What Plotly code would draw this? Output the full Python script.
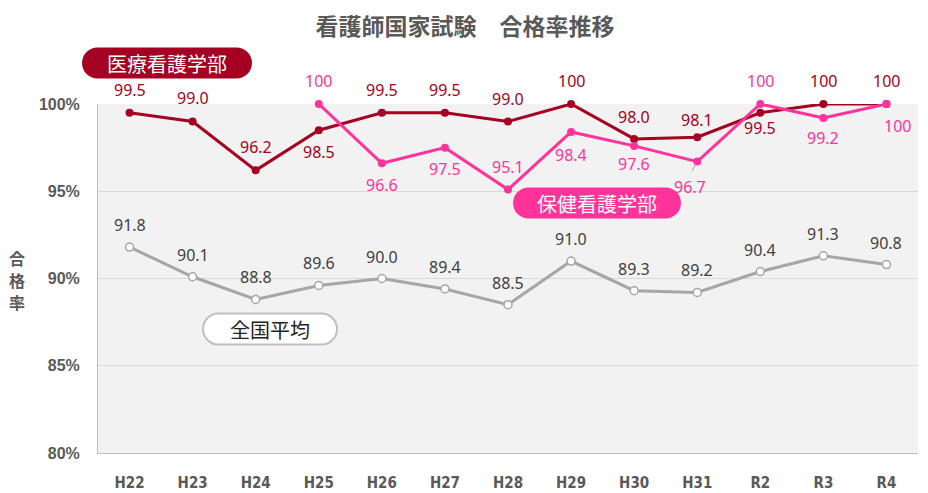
import plotly.graph_objects as go

categories = ["H22", "H23", "H24", "H25", "H26", "H27", "H28", "H29", "H30", "H31", "R2", "R3", "R4"]
iryo = [99.5, 99.0, 96.2, 98.5, 99.5, 99.5, 99.0, 100, 98.0, 98.1, 99.5, 100, 100]
hoken = [None, None, None, 100, 96.6, 97.5, 95.1, 98.4, 97.6, 96.7, 100, 99.2, 100]
zenkoku = [91.8, 90.1, 88.8, 89.6, 90.0, 89.4, 88.5, 91.0, 89.3, 89.2, 90.4, 91.3, 90.8]
label_iryo = ["99.5", "99.0", "96.2", "98.5", "99.5", "99.5", "99.0", "100", "98.0", "98.1", "99.5", "100", "100"]
label_hoken = [None, None, None, "100", "96.6", "97.5", "95.1", "98.4", "97.6", "96.7", "100", "99.2", "100"]
label_zenkoku = ["91.8", "90.1", "88.8", "89.6", "90.0", "89.4", "88.5", "91.0", "89.3", "89.2", "90.4", "91.3", "90.8"]
yticks = [80, 85, 90, 95, 100]
yticktext = ["80%", "85%", "90%", "95%", "100%"]
ytitle_chars = ["合", "格", "率"]

# label pixel offsets (style)
off_iryo = [23, 23, 23, -22, 23, 23, 22, 23, 22, 17, -15, 23, 23]
off_hoken = [0, 0, 0, 23, -22, -21, 23, -23, -18, -25, 23, -20, -22]
xoff_hoken = [0, 0, 0, 0, 0, 0, 0, 0, 0, -7, 0, 0, 11]
off_zenkoku = [22] * 13

RED = "#a50021"
PINK = "#ff3399"
GRAY = "#a6a6a6"
TXT = "#595959"

W, H = 928, 493
L, R, T, B = 98, 10, 104, 40
PW, PH = W - L - R, H - T - B


def px(x):
    return (x - L) / PW


def py(y):
    return (H - B - y) / PH


fig = go.Figure()
fig.add_trace(go.Scatter(x=categories, y=zenkoku, mode="lines+markers",
                         line=dict(color=GRAY, width=3),
                         marker=dict(size=8, color="white", line=dict(color=GRAY, width=1.5)),
                         cliponaxis=False, hoverinfo="skip"))
fig.add_trace(go.Scatter(x=categories, y=iryo, mode="lines+markers",
                         line=dict(color=RED, width=3),
                         marker=dict(size=8, color=RED),
                         cliponaxis=False, hoverinfo="skip"))
fig.add_trace(go.Scatter(x=categories, y=hoken, mode="lines+markers",
                         line=dict(color=PINK, width=3),
                         marker=dict(size=8, color=PINK),
                         cliponaxis=False, hoverinfo="skip", connectgaps=False))

annotations = []
lab_font = "Noto Sans, Open Sans, sans-serif"
LS = 16
for i, c in enumerate(categories):
    annotations.append(dict(x=c, y=iryo[i], text=label_iryo[i], showarrow=False,
                            xanchor="center", yanchor="middle",
                            yshift=off_iryo[i], font=dict(family=lab_font, size=LS, color=RED)))
    annotations.append(dict(x=c, y=zenkoku[i], text=label_zenkoku[i], showarrow=False,
                            xanchor="center", yanchor="middle",
                            yshift=off_zenkoku[i], font=dict(family=lab_font, size=LS, color="#404040")))
    if hoken[i] is not None:
        annotations.append(dict(x=c, y=hoken[i], text=label_hoken[i], showarrow=False,
                                xanchor="center", yanchor="middle",
                                yshift=off_hoken[i], xshift=xoff_hoken[i],
                                font=dict(family=lab_font, size=LS, color=PINK)))

# leader line for 96.7
annotations.append(dict(x="H31", y=96.7, text="", showarrow=True, arrowhead=0, arrowwidth=1,
                        arrowcolor=GRAY, ax=-6, ay=11, standoff=3))

# y axis title (stacked characters)
for j, ch in enumerate(ytitle_chars):
    annotations.append(dict(xref="paper", yref="paper", x=px(17), y=py(258 + 22 * j), text=ch,
                            xanchor="center", yanchor="middle", showarrow=False,
                            font=dict(family="Noto Sans CJK JP", size=16, color=TXT, weight="bold")))


def pill(cx, cy, w, h, fill, line_color=None, line_width=0):
    r = h / 2
    a = w / 2 - r
    k = 0.5523 * r
    p = (f"M {-a},{-r} L {a},{-r} C {a + k},{-r} {a + r},{-k} {a + r},0 "
         f"C {a + r},{k} {a + k},{r} {a},{r} L {-a},{r} "
         f"C {-a - k},{r} {-a - r},{k} {-a - r},0 C {-a - r},{-k} {-a - k},{-r} {-a},{-r} Z")
    return dict(type="path", path=p, xref="paper", yref="paper", xsizemode="pixel", ysizemode="pixel",
                xanchor=px(cx), yanchor=py(cy), fillcolor=fill,
                line=dict(color=line_color or fill, width=line_width), layer="above")


shapes = [
    pill(167, 63, 170, 31, RED),
    pill(597, 203, 168, 31, PINK),
    pill(270, 329, 134, 31, "white", "#bfbfbf", 2),
]
pill_font = "Noto Sans CJK JP"
for cx, cy, txt, col in [(167, 63, "医療看護学部", "white"),
                         (597, 203, "保健看護学部", "white"),
                         (270, 329, "全国平均", "#222222")]:
    annotations.append(dict(xref="paper", yref="paper", x=px(cx), y=py(cy), text=txt,
                            xanchor="center", yanchor="middle",
                            showarrow=False, font=dict(family=pill_font, size=20, color=col)))

fig.update_layout(
    width=W, height=H,
    margin=dict(l=L, r=R, t=T, b=B, autoexpand=False),
    paper_bgcolor="white",
    plot_bgcolor="#f2f2f2",
    showlegend=False,
    title=dict(text="看護師国家試験　合格率推移", x=465 / W, xanchor="center",
               y=1 - 27 / H, yanchor="middle",
               font=dict(family="Noto Sans CJK JP", size=23, color=TXT, weight="bold")),
    annotations=annotations,
    shapes=shapes,
    xaxis=dict(type="category", range=[-0.5, 12.5], showgrid=False, showline=True,
               linecolor="#bfbfbf", linewidth=1, ticks="", ticklabelstandoff=16, automargin=False,
               tickfont=dict(family="Liberation Sans Narrow, DejaVu Sans Condensed, sans-serif",
                             size=15, color=TXT, weight="bold")),
    yaxis=dict(range=[80, 100], tickvals=yticks, ticktext=yticktext, showgrid=True,
               gridcolor="#d9d9d9", gridwidth=1, showline=True, linecolor="#bfbfbf",
               linewidth=1, zeroline=False, ticks="", ticklabelstandoff=14, automargin=False,
               tickfont=dict(family="Liberation Sans, Arial, sans-serif", size=16, color=TXT,
                             weight="bold")),
)

fig.write_html("out.html")
